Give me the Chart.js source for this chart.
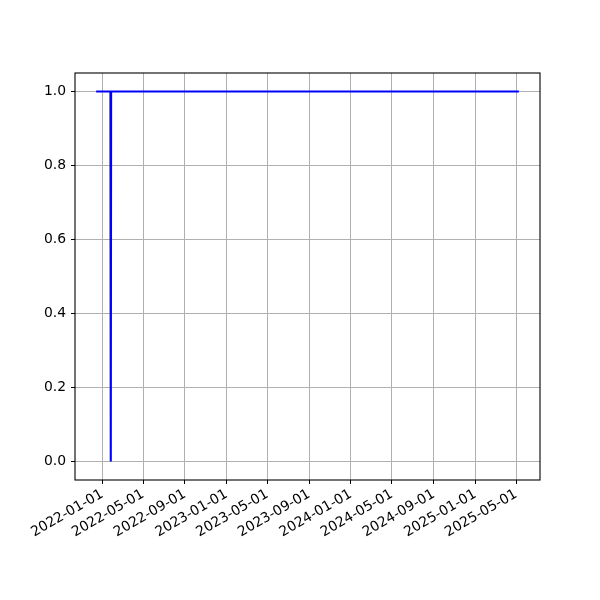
<!DOCTYPE html>
<html>
<head>
<meta charset="utf-8">
<script src="https://cdn.jsdelivr.net/npm/chart.js@4/dist/chart.umd.min.js"></script>
<style>
html,body{margin:0;padding:0;background:#fff;}
#wrap{width:600px;height:600px;}
</style>
</head>
<body>
<div id="wrap"><canvas id="c" width="600" height="600"></canvas></div>
<script>
const dates = ['2021-12-14', '2022-01-25', '2022-01-26', '2022-01-27', '2025-05-09'];
const values = [1, 1, 0, 1, 1];
const xTickLabels = ['2022-01-01','2022-05-01','2022-09-01','2023-01-01','2023-05-01','2023-09-01','2024-01-01','2024-05-01','2024-09-01','2025-01-01','2025-05-01'];
const yTickValues = [0.0, 0.2, 0.4, 0.6, 0.8, 1.0];

const toMs = s => { const [y,m,d] = s.split('-').map(Number); return Date.UTC(y, m-1, d); };
const pad2 = n => String(n).padStart(2,'0');
const fmt = ms => { const d = new Date(ms); return d.getUTCFullYear()+'-'+pad2(d.getUTCMonth()+1)+'-'+pad2(d.getUTCDate()); };

const pts = dates.map((d,i)=>({x: toMs(d), y: values[i]}));
const xMinData = pts[0].x, xMaxData = pts[pts.length-1].x;
const span = xMaxData - xMinData;
const xMin = xMinData - span*0.05, xMax = xMaxData + span*0.05;

const FONT = {family: 'DejaVu Sans', size: 13.9};

const framePlugin = {
  id: 'frame',
  afterDraw(chart){
    const {ctx, chartArea:a} = chart;
    ctx.save();
    ctx.strokeStyle = '#000';
    ctx.lineWidth = 1.1;
    ctx.strokeRect(a.left, a.top, a.right-a.left, a.bottom-a.top);
    ctx.restore();
  }
};

new Chart(document.getElementById('c'), {
  type: 'line',
  data: {
    datasets: [{
      data: pts,
      borderColor: '#0000ff',
      borderWidth: 2.1,
      pointRadius: 0,
      fill: false,
      tension: 0
    }]
  },
  options: {
    responsive: false,
    animation: false,
    events: [],
    plugins: {legend: {display: false}, tooltip: {enabled: false}},
    layout: {padding: {left: 0, top: 73, right: 60, bottom: 0}},
    scales: {
      x: {
        type: 'linear',
        min: xMin, max: xMax,
        afterBuildTicks(scale){ scale.ticks = xTickLabels.map(s=>({value: toMs(s)})); },
        afterFit(scale){ scale.height = 120; },
        ticks: {
          font: FONT, color: '#000', padding: 2,
          minRotation: 30, maxRotation: 30, autoSkip: false,
          callback: v => fmt(v)
        },
        grid: {color: '#b0b0b0', lineWidth: 1, tickColor: '#000', tickLength: 4, drawTicks: true},
        border: {display: false}
      },
      y: {
        type: 'linear',
        min: -0.05, max: 1.05,
        afterBuildTicks(scale){ scale.ticks = yTickValues.map(v=>({value: v})); },
        afterFit(scale){ scale.width = 75; },
        ticks: {font: FONT, color: '#000', padding: 5, callback: v => v.toFixed(1)},
        grid: {color: '#b0b0b0', lineWidth: 1, tickColor: '#000', tickLength: 4, drawTicks: true},
        border: {display: false}
      }
    }
  },
  plugins: [framePlugin]
});
</script>
</body>
</html>
